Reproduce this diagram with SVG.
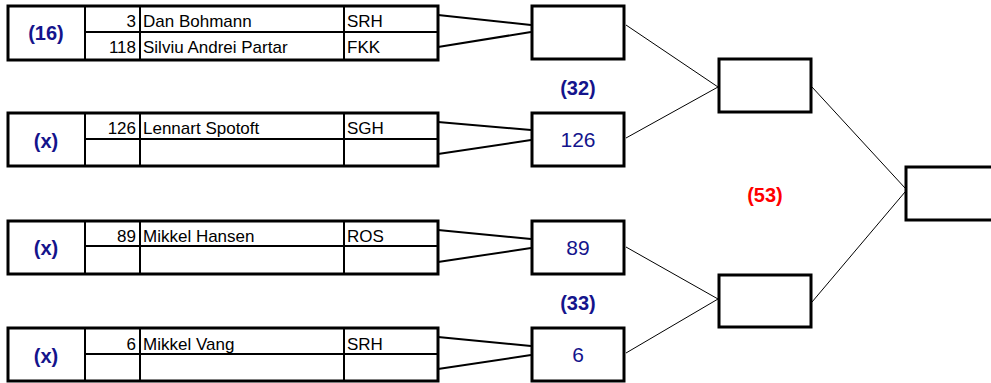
<svg xmlns="http://www.w3.org/2000/svg" width="991" height="383" viewBox="0 0 991 383">
<style>
.outer{fill:#fff;stroke:#000;stroke-width:3}
.div{stroke:#000;stroke-width:2;fill:none}
.box{fill:#fff;stroke:#000;stroke-width:3}
.t{font-family:"Liberation Sans",Arial,sans-serif;font-size:17px;fill:#000}
.num{text-anchor:end}
.seed{font-family:"Liberation Sans",Arial,sans-serif;font-size:20px;font-weight:bold;fill:#14148c;text-anchor:middle}
.res{font-family:"Liberation Sans",Arial,sans-serif;font-size:21px;fill:#14148c;text-anchor:middle}
.red{fill:#ff0000}
.c1{stroke:#000;stroke-width:2;fill:none}
.c2{stroke:#000;stroke-width:1;fill:none}
</style>
<g id="connectors">
<line class="c1" x1="438" y1="15" x2="531" y2="25"/>
<line class="c1" x1="438" y1="47" x2="531" y2="32"/>
<line class="c1" x1="438" y1="122" x2="531" y2="130"/>
<line class="c1" x1="438" y1="154" x2="531" y2="140"/>
<line class="c1" x1="438" y1="230" x2="531" y2="239"/>
<line class="c1" x1="438" y1="262" x2="531" y2="248"/>
<line class="c1" x1="438" y1="337" x2="531" y2="346"/>
<line class="c1" x1="438" y1="369" x2="531" y2="355"/>
<line class="c2" x1="626" y1="25" x2="718" y2="87"/>
<line class="c2" x1="626" y1="138" x2="718" y2="87"/>
<line class="c2" x1="626" y1="247" x2="718" y2="299"/>
<line class="c2" x1="626" y1="353" x2="718" y2="299"/>
<line class="c2" x1="812" y1="87" x2="905" y2="188"/>
<line class="c2" x1="812" y1="302" x2="905" y2="192"/>
</g>
<g id="table1">
<rect class="outer" x="8" y="6" width="430" height="54"/>
<path class="div" d="M85 6V60M140 6V60M344 6V60M85 32H438"/>
<text class="seed" x="46" y="40">(16)</text>
<text class="t num" x="136" y="27">3</text>
<text class="t" x="143" y="27">Dan Bohmann</text>
<text class="t" x="347" y="27">SRH</text>
<text class="t num" x="136" y="53">118</text>
<text class="t" x="143" y="53">Silviu Andrei Partar</text>
<text class="t" x="347" y="53">FKK</text>
</g>
<g id="table2">
<rect class="outer" x="8" y="113" width="430" height="53"/>
<path class="div" d="M85 113V166M140 113V166M344 113V166M85 139H438"/>
<text class="seed" x="46" y="148">(x)</text>
<text class="t num" x="136" y="134">126</text>
<text class="t" x="143" y="134">Lennart Spotoft</text>
<text class="t" x="347" y="134">SGH</text>
</g>
<g id="table3">
<rect class="outer" x="8" y="221" width="430" height="53"/>
<path class="div" d="M85 221V274M140 221V274M344 221V274M85 246H438"/>
<text class="seed" x="46" y="255">(x)</text>
<text class="t num" x="136" y="242">89</text>
<text class="t" x="143" y="242">Mikkel Hansen</text>
<text class="t" x="347" y="242">ROS</text>
</g>
<g id="table4">
<rect class="outer" x="8" y="328" width="430" height="53"/>
<path class="div" d="M85 328V381M140 328V381M344 328V381M85 354H438"/>
<text class="seed" x="46" y="363">(x)</text>
<text class="t num" x="136" y="350">6</text>
<text class="t" x="143" y="350">Mikkel Vang</text>
<text class="t" x="347" y="350">SRH</text>
</g>
<g id="r1a"><rect class="box" x="532" y="6" width="92" height="53"/></g>
<g id="r1b"><rect class="box" x="532" y="113" width="92" height="53"/><text class="res" x="578" y="147">126</text></g>
<g id="r1c"><rect class="box" x="532" y="221" width="92" height="53"/><text class="res" x="578" y="255">89</text></g>
<g id="r1d"><rect class="box" x="532" y="328" width="92" height="53"/><text class="res" x="578" y="362">6</text></g>
<g id="lbl32"><text class="seed" x="578" y="95">(32)</text></g>
<g id="lbl33"><text class="seed" x="578" y="310">(33)</text></g>
<g id="lbl53"><text class="seed red" x="765" y="202">(53)</text></g>
<g id="r2a"><rect class="box" x="719" y="59" width="92" height="53"/></g>
<g id="r2b"><rect class="box" x="719" y="275" width="92" height="52"/></g>
<g id="final"><rect class="box" x="906" y="167" width="90" height="53"/></g>
</svg>
